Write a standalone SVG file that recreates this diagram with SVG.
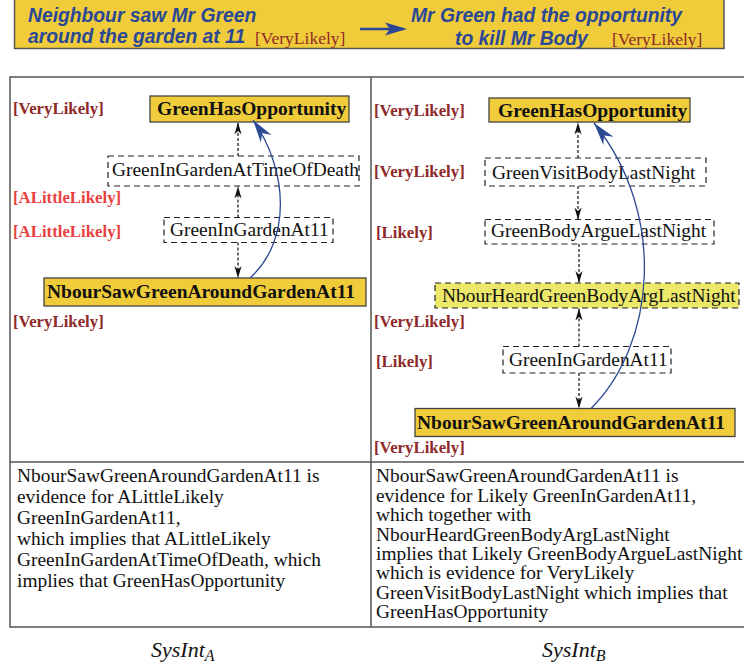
<svg xmlns="http://www.w3.org/2000/svg" width="744" height="667" viewBox="0 0 744 667">
  <defs>
    <!-- small black head for the dashed inference links -->
    <marker id="dashHead" markerUnits="userSpaceOnUse" markerWidth="14" markerHeight="10" viewBox="-13 -5 14 10" refX="0" refY="0" orient="auto">
      <path d="M0,0 L-12,-3.6 L-8.5,0 L-12,3.6 Z" fill="#111"/>
    </marker>
    <!-- large blue head for the direct evidence link -->
    <marker id="blueHead" markerUnits="userSpaceOnUse" markerWidth="26" markerHeight="16" viewBox="-25 -8 26 16" refX="0" refY="0" orient="auto">
      <path d="M0,0 L-23,-6.5 L-16,0 L-23,6.5 Z" fill="#2c4a94"/>
    </marker>
  </defs>
  <style>
    .banner { font-family: "Liberation Sans", Arial, sans-serif; font-weight: bold; font-style: italic; font-size: 19.3px; fill: #2b4896; }
    .bannerLvl { font-family: "Liberation Serif", "Times New Roman", serif; font-size: 17.5px; fill: #8e2a2a; }
    .lvl { font-family: "Liberation Serif", "Times New Roman", serif; font-weight: bold; font-size: 16.8px; fill: #8e2a2a; }
    .lvl.weak { fill: #e8413f; }
    .solid rect { fill: #f0cb3a; stroke: #444; stroke-width: 1.3; }
    .solid text { font-family: "Liberation Serif", "Times New Roman", serif; font-weight: bold; font-size: 19.5px; fill: #111; }
    .hyp rect { fill: #fff; stroke: #222; stroke-width: 1.2; stroke-dasharray: 6 4; }
    .obs rect { fill: #ece86a; stroke: #222; stroke-width: 1.2; stroke-dasharray: 6 4; }
    .hyp text, .obs text { font-family: "Liberation Serif", "Times New Roman", serif; font-size: 19.4px; fill: #111; }
    .conn path { fill: none; stroke: #111; stroke-width: 1.2; stroke-dasharray: 3 2; marker-end: url(#dashHead); }
    .conn path.link { stroke: #2c4a94; stroke-width: 1.3; stroke-dasharray: none; marker-end: url(#blueHead); }
    .frame { fill: none; stroke: #555; stroke-width: 1.5; }
    .body { font-family: "Liberation Serif", "Times New Roman", serif; font-size: 19.4px; fill: #111; }
    .cap { font-family: "Liberation Serif", "Times New Roman", serif; font-style: italic; font-size: 22px; fill: #111; }
    .cap tspan.sub { font-size: 16px; }
  </style>

  <!-- headline: evidence and conclusion -->
  <g id="headline">
    <rect x="14.5" y="-1" width="709.5" height="49.5" fill="#f0cb3a" stroke="#555" stroke-width="1.5"/>
    <text class="banner" x="28" y="22">Neighbour saw Mr Green</text>
    <text class="banner" x="28" y="43">around the garden at 11</text>
    <text class="bannerLvl" x="255" y="44">[VeryLikely]</text>
    <path d="M360,29 L404,29" fill="none" stroke="#2b4896" stroke-width="2.5"/>
    <path d="M407,29 L385,22.5 L390,29 L385,35.5 Z" fill="#2b4896"/>
    <text class="banner" x="411" y="22">Mr Green had the opportunity</text>
    <text class="banner" x="455" y="45">to kill Mr Body</text>
    <text class="bannerLvl" x="612" y="45">[VeryLikely]</text>
  </g>

  <!-- table frame -->
  <g id="frame">
    <path class="frame" d="M746,77 L10,77 L10,627 L746,627"/>
    <path class="frame" d="M371,77 L371,627"/>
    <path class="frame" d="M10,462 L746,462"/>
  </g>

  <!-- left column: SysInt A -->
  <g id="levelsA">
    <text class="lvl" x="13" y="114">[VeryLikely]</text>
    <text class="lvl weak" x="13" y="203">[ALittleLikely]</text>
    <text class="lvl weak" x="13" y="237">[ALittleLikely]</text>
    <text class="lvl" x="13" y="327">[VeryLikely]</text>
  </g>
  <g id="a-GreenHasOpportunity" class="solid">
    <rect x="150" y="96" width="199" height="26"/>
    <text x="157" y="115">GreenHasOpportunity</text>
  </g>
  <g id="a-GreenInGardenAtTimeOfDeath" class="hyp">
    <rect x="108" y="156" width="251" height="30"/>
    <text x="112" y="176">GreenInGardenAtTimeOfDeath</text>
  </g>
  <g id="a-GreenInGardenAt11" class="hyp">
    <rect x="164" y="217.5" width="169" height="25"/>
    <text x="170" y="236">GreenInGardenAt11</text>
  </g>
  <g id="a-NbourSawGreenAroundGardenAt11" class="solid">
    <rect x="44" y="278" width="322" height="28"/>
    <text x="47" y="298">NbourSawGreenAroundGardenAt11</text>
  </g>

  <!-- right column: SysInt B -->
  <g id="levelsB">
    <text class="lvl" x="374" y="116">[VeryLikely]</text>
    <text class="lvl" x="374" y="177">[VeryLikely]</text>
    <text class="lvl" x="376" y="238">[Likely]</text>
    <text class="lvl" x="374" y="327">[VeryLikely]</text>
    <text class="lvl" x="376" y="367">[Likely]</text>
    <text class="lvl" x="374" y="453">[VeryLikely]</text>
  </g>
  <g id="b-GreenHasOpportunity" class="solid">
    <rect x="489" y="98" width="201" height="24"/>
    <text x="498" y="117">GreenHasOpportunity</text>
  </g>
  <g id="b-GreenVisitBodyLastNight" class="hyp">
    <rect x="485" y="158" width="221" height="28"/>
    <text x="492" y="179">GreenVisitBodyLastNight</text>
  </g>
  <g id="b-GreenBodyArgueLastNight" class="hyp">
    <rect x="485" y="219.5" width="229" height="24.5"/>
    <text x="491" y="237">GreenBodyArgueLastNight</text>
  </g>
  <g id="b-NbourHeardGreenBodyArgLastNight" class="obs">
    <rect x="435" y="283" width="304" height="25"/>
    <text x="442" y="302">NbourHeardGreenBodyArgLastNight</text>
  </g>
  <g id="b-GreenInGardenAt11" class="hyp">
    <rect x="503" y="346.5" width="168" height="26.5"/>
    <text x="509" y="366">GreenInGardenAt11</text>
  </g>
  <g id="b-NbourSawGreenAroundGardenAt11" class="solid">
    <rect x="415" y="408.5" width="320" height="28"/>
    <text x="417" y="428.5">NbourSawGreenAroundGardenAt11</text>
  </g>

  <!-- connectors -->
  <g id="connectors" class="conn">
    <path d="M238,156 L238,122.5"/>
    <path d="M238,217.5 L238,186.5"/>
    <path d="M238,242.5 L238,278"/>
    <path class="link" d="M250,278 C292,240 288,170 253,120"/>

    <path d="M578,158 L578,122.5"/>
    <path d="M578,186 L578,219.5"/>
    <path d="M579,244 L579,283"/>
    <path d="M579,346.5 L579,308.5"/>
    <path d="M579,373 L579,408.5"/>
    <path class="link" d="M591,408.5 C655,345 668,215 594,123"/>
  </g>

  <!-- explanations -->
  <g id="explanationA" class="body">
    <text x="17" y="482">NbourSawGreenAroundGardenAt11 is</text>
    <text x="17" y="503">evidence for ALittleLikely</text>
    <text x="17" y="524">GreenInGardenAt11,</text>
    <text x="17" y="545">which implies that ALittleLikely</text>
    <text x="17" y="566">GreenInGardenAtTimeOfDeath, which</text>
    <text x="17" y="587">implies that GreenHasOpportunity</text>
  </g>
  <g id="explanationB" class="body">
    <text x="376" y="482">NbourSawGreenAroundGardenAt11 is</text>
    <text x="376" y="501.5">evidence for Likely GreenInGardenAt11,</text>
    <text x="376" y="521">which together with</text>
    <text x="376" y="540.5">NbourHeardGreenBodyArgLastNight</text>
    <text x="376" y="560">implies that Likely GreenBodyArgueLastNight</text>
    <text x="376" y="579">which is evidence for VeryLikely</text>
    <text x="376" y="598.5">GreenVisitBodyLastNight which implies that</text>
    <text x="376" y="618">GreenHasOpportunity</text>
  </g>

  <!-- column captions -->
  <text class="cap" x="151" y="657">SysInt<tspan class="sub" dy="4">A</tspan></text>
  <text class="cap" x="542" y="657">SysInt<tspan class="sub" dy="4">B</tspan></text>
</svg>
